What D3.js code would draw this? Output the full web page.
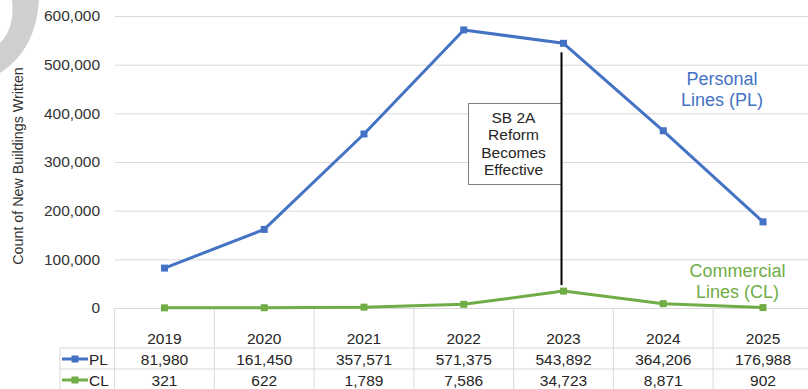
<!DOCTYPE html>
<html>
<head>
<meta charset="utf-8">
<script src="https://cdn.jsdelivr.net/npm/d3@7"></script>
<style>
    body { margin: 0; background: #fff; }
    svg { display: block; font-family: "Liberation Sans", Arial, sans-serif; }
    .tick text { fill: #333; }
</style>
</head>
<body>
<div id="chart"></div>
<script>
// chart data
let years = ["2019", "2020", "2021", "2022", "2023", "2024", "2025"]
let plValues = [81980, 161450, 357571, 571375, 543892, 364206, 176988]
let clValues = [321, 622, 1789, 7586, 34723, 8871, 902]
let yTicks = [0, 100000, 200000, 300000, 400000, 500000, 600000]
let noteLines = ["SB 2A", "Reform", "Becomes", "Effective"]

const width = 808, height = 389
const blue = "#4472C4", green = "#70AD47", gridColor = "#d9d9d9"

let svg = d3.select("#chart")
    .append("svg")
    .attr("width", width)
    .attr("height", height)

// grey arc in the top left corner
svg.append("path")
    .attr("d", "M39,0 Q36,50 0,73 L0,43 Q15,28 12,0 Z")
    .attr("fill", "#cfcfcf")

let xScale = d3.scaleBand()
    .domain(years)
    .range([114.6, 812.9])

let yScale = d3.scaleLinear()
    .domain([0, 600000])
    .range([308, 16])

// gridlines
svg.append("g")
    .attr("transform", "translate(115,0)")
    .call(d3.axisLeft(yScale).tickValues(yTicks).tickSize(-(width - 115)).tickFormat(""))
    .call(g => g.select(".domain").remove())
    .call(g => g.selectAll("line").attr("stroke", gridColor))

// y tick labels
svg.append("g")
    .attr("transform", "translate(115,0)")
    .call(d3.axisLeft(yScale).tickValues(yTicks).tickSize(0).tickPadding(15).tickFormat(d3.format(",")))
    .call(g => g.select(".domain").remove())
    .call(g => g.selectAll("text").attr("font-size", "15.5px").attr("font-family", "Liberation Sans, Arial, sans-serif"))

// y-axis title
svg.append("text")
    .attr("transform", "translate(23,166) rotate(-90)")
    .attr("text-anchor", "middle")
    .attr("font-size", "14.3px")
    .attr("fill", "#333")
    .text("Count of New Buildings Written")

// data table borders
let bounds = years.map(d => xScale(d)).concat([xScale.range()[1]])
svg.append("g")
    .selectAll("line")
    .data(bounds)
    .enter()
    .append("line")
    .attr("x1", d => d)
    .attr("x2", d => d)
    .attr("y1", 308)
    .attr("y2", height)
    .attr("stroke", gridColor)

svg.append("g")
    .selectAll("line")
    .data([348, 369])
    .enter()
    .append("line")
    .attr("x1", 60)
    .attr("x2", width)
    .attr("y1", d => d)
    .attr("y2", d => d)
    .attr("stroke", gridColor)

svg.append("line")
    .attr("x1", 60).attr("x2", 60)
    .attr("y1", 348).attr("y2", height)
    .attr("stroke", gridColor)

// table text
const center = d => xScale(d) + xScale.bandwidth() / 2
let rows = [
    { y: 343.5, values: years, fmt: d => d },
    { y: 364.5, values: plValues, fmt: d3.format(",") },
    { y: 385.5, values: clValues, fmt: d3.format(",") }
]
rows.forEach(function (row) {
    svg.append("g")
        .selectAll("text")
        .data(row.values)
        .enter()
        .append("text")
        .attr("x", (d, i) => center(years[i]))
        .attr("y", row.y)
        .attr("text-anchor", "middle")
        .attr("font-size", "15.5px")
        .attr("fill", "#262626")
        .text(row.fmt)
})

// legend keys in the table
let keys = [{ name: "PL", color: blue, y: 359 }, { name: "CL", color: green, y: 380 }]
keys.forEach(function (k) {
    svg.append("line")
        .attr("x1", 62).attr("x2", 88)
        .attr("y1", k.y).attr("y2", k.y)
        .attr("stroke", k.color)
        .attr("stroke-width", 3)
    svg.append("rect")
        .attr("x", 75 - 3.5).attr("y", k.y - 3.5)
        .attr("width", 7).attr("height", 7)
        .attr("fill", k.color)
    svg.append("text")
        .attr("x", 89)
        .attr("y", k.y + 5.5)
        .attr("font-size", "15.5px")
        .attr("fill", "#262626")
        .text(k.name)
})

// annotation box and line
let lineX = center("2023") - 2
svg.append("rect")
    .attr("x", 468.5)
    .attr("y", 103.5)
    .attr("width", lineX - 468.5)
    .attr("height", 81)
    .attr("fill", "#fff")
    .attr("stroke", "#7f7f7f")
    .attr("stroke-width", 1)

svg.append("g")
    .selectAll("text")
    .data(noteLines)
    .enter()
    .append("text")
    .attr("x", 513.5)
    .attr("y", (d, i) => 122.7 + i * 17.5)
    .attr("text-anchor", "middle")
    .attr("font-size", "15.5px")
    .attr("fill", "#262626")
    .text(d => d)

svg.append("line")
    .attr("x1", lineX).attr("x2", lineX)
    .attr("y1", yScale(plValues[4]) + 9)
    .attr("y2", yScale(clValues[4]) - 6)
    .attr("stroke", "#000")
    .attr("stroke-width", 2)

// series lines
function drawSeries(values, color) {
    let line = d3.line()
        .x((d, i) => center(years[i]))
        .y(d => yScale(d))

    svg.append("path")
        .datum(values)
        .attr("d", line)
        .attr("fill", "none")
        .attr("stroke", color)
        .attr("stroke-width", 3)
        .attr("stroke-linejoin", "round")

    svg.append("g")
        .selectAll("rect")
        .data(values)
        .enter()
        .append("rect")
        .attr("x", (d, i) => center(years[i]) - 3.5)
        .attr("y", d => yScale(d) - 3.5)
        .attr("width", 7)
        .attr("height", 7)
        .attr("fill", color)
}
drawSeries(clValues, green)
drawSeries(plValues, blue)

// series labels
let seriesLabels = [
    { lines: ["Personal", "Lines (PL)"], color: blue, x: 722, y: 85 },
    { lines: ["Commercial", "Lines (CL)"], color: green, x: 737.5, y: 277 }
]
seriesLabels.forEach(function (s) {
    svg.append("g")
        .selectAll("text")
        .data(s.lines)
        .enter()
        .append("text")
        .attr("x", s.x)
        .attr("y", (d, i) => s.y + i * 21)
        .attr("text-anchor", "middle")
        .attr("font-size", "18px")
        .attr("fill", s.color)
        .text(d => d)
})
</script>
</body>
</html>
